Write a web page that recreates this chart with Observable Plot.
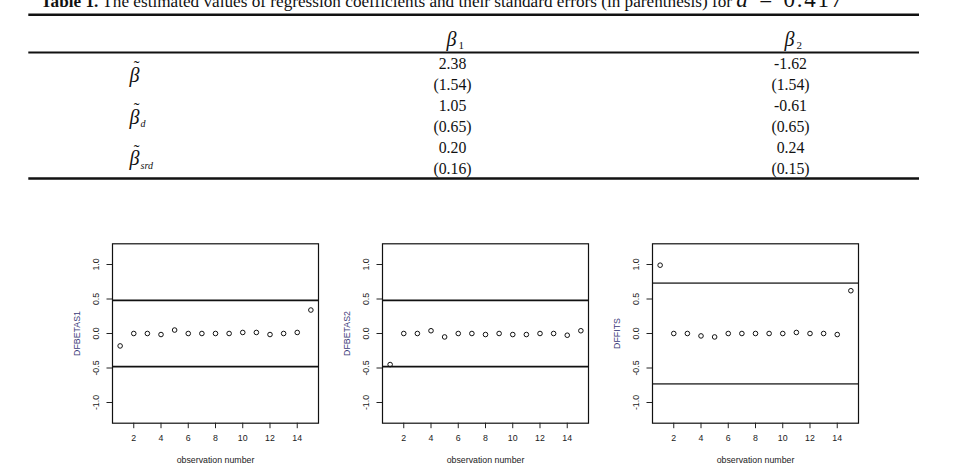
<!DOCTYPE html>
<html><head><meta charset="utf-8">
<script src="https://cdn.jsdelivr.net/npm/d3@7"></script>
<script src="https://cdn.jsdelivr.net/npm/@observablehq/plot@0.6"></script>
<style>
body{margin:0;background:#fff;}
#root{position:relative;width:957px;height:468px;overflow:hidden;background:#fff;}
.abs{position:absolute;}
#title{font-family:"Liberation Serif","Times New Roman",serif;font-size:17.2px;white-space:nowrap;line-height:20px;color:#111;}
#title .eq{font-size:23px;letter-spacing:1.8px;word-spacing:2px;}
</style></head><body><div id="root"></div>
<script>
// ---- table data ----
const titleBold = "Table 1.";
const titleText = " The estimated values of regression coefficients and their standard errors (in parenthesis) for ";
const dName = "d";
const dValue = "0.417";
const coefSubs = ["1", "2"];
const estimatorSubs = ["", "d", "srd"];
const beta1Est = [2.38, 1.05, 0.20];
const beta1SE  = [1.54, 0.65, 0.16];
const beta2Est = [-1.62, -0.61, 0.24];
const beta2SE  = [1.54, 0.65, 0.15];

// ---- panel data ----
const obs = [1,2,3,4,5,6,7,8,9,10,11,12,13,14,15];
const dfbetas1 = [-0.18, 0, 0, -0.015, 0.05, 0, 0, 0, 0, 0.015, 0.015, -0.015, 0, 0.015, 0.34];
const dfbetas2 = [-0.45, 0, 0, 0.04, -0.05, 0, 0, -0.015, 0, -0.015, -0.015, 0, 0, -0.025, 0.04];
const dffits   = [0.99, 0, 0, -0.035, -0.05, 0, 0, 0, 0, 0, 0.015, 0, 0, -0.015, 0.62];
const panelLabels = ["DFBETAS1", "DFBETAS2", "DFFITS"];
const cutoffs = [0.48, 0.48, 0.73];
const xTicks = [2,4,6,8,10,12,14];
const yTicks = [-1, -0.5, 0, 0.5, 1];
const yTickLabels = ["-1.0", "-0.5", "0.0", "0.5", "1.0"];
const xLabel = "observation number";

const root = document.getElementById("root");

// ---- title (HTML, above the table) ----
const title = document.createElement("div");
title.id = "title"; title.className = "abs";
title.style.left = "40.7px"; title.style.top = "-10px";
title.innerHTML = `<b>${titleBold}</b>${titleText}<span class="eq"><i>${dName}</i> = ${dValue}</span>`;
root.appendChild(title);

// ---- table as a Plot ----
const cells = [];
estimatorSubs.forEach((s, i) => {
  cells.push({col: "b1", row: 2*i,   text: beta1Est[i].toFixed(2)});
  cells.push({col: "b1", row: 2*i+1, text: "(" + beta1SE[i].toFixed(2) + ")"});
  cells.push({col: "b2", row: 2*i,   text: beta2Est[i].toFixed(2)});
  cells.push({col: "b2", row: 2*i+1, text: "(" + beta2SE[i].toFixed(2) + ")"});
});
const rowLabelData = estimatorSubs.map((s, i) => ({col: "label", row: 2*i + 0.55, sub: s}));
const headerData = coefSubs.map((s, i) => ({col: "b" + (i+1), row: -1.16, sub: s}));
const serif = "Liberation Serif, Times New Roman, serif";

const table = Plot.plot({
  width: 957, height: 190,
  marginTop: 5.7, marginBottom: 6.3, marginLeft: 0, marginRight: 0,
  style: {fontFamily: serif, background: "transparent", color: "#111"},
  x: {type: "point", domain: ["label", "b1", "b2"], range: [114, 790], padding: 0, axis: null},
  y: {domain: [-2.75, 5.75], reverse: true, axis: null},
  marks: [
    Plot.ruleY([-2.34], {stroke: "#111", strokeWidth: 2.6, insetLeft: 28.3, insetRight: 38}),
    Plot.ruleY([-0.54], {stroke: "#111", strokeWidth: 2, insetLeft: 28.3, insetRight: 38}),
    Plot.ruleY([5.48], {stroke: "#111", strokeWidth: 2.6, insetLeft: 28.3, insetRight: 38}),
    Plot.text(headerData, {x: "col", y: "row", text: () => "β", fontSize: 20, fontStyle: "italic", dx: -1}),
    Plot.text(headerData, {x: "col", y: "row", text: "sub", fontSize: 11, textAnchor: "start", dx: 6, dy: 6}),
    Plot.text(cells, {x: "col", y: "row", text: "text", fontSize: 15.8}),
    Plot.text(rowLabelData, {x: "col", y: "row", text: () => "β", fontSize: 20, fontStyle: "italic", dx: 20}),
    Plot.text(rowLabelData, {x: "col", y: "row", text: () => "˜", fontSize: 17, dx: 22, dy: -9}),
    Plot.text(rowLabelData, {x: "col", y: "row", text: "sub", fontSize: 10, fontStyle: "italic", textAnchor: "start", dx: 26, dy: 7})
  ]
});
table.classList.add("abs");
table.style.left = "0px"; table.style.top = "0px";
root.appendChild(table);

// ---- panels ----
const sans = "Liberation Sans, Arial, sans-serif";
function panel(values, label, cut, lineColor) {
  const data = obs.map((o, i) => ({obs: o, v: values[i]}));
  return Plot.plot({
    width: 270, height: 240,
    marginLeft: 50, marginRight: 14, marginTop: 15.3, marginBottom: 45.3,
    style: {fontFamily: sans, fontSize: "8.8px", color: "#222", background: "transparent", overflow: "visible"},
    x: {domain: [0.44, 15.56]},
    y: {domain: [-1.3, 1.3]},
    marks: [
      Plot.ruleY([cut, -cut], {stroke: lineColor, strokeWidth: 1.6}),
      Plot.frame({stroke: "#111", strokeWidth: 1.2}),
      Plot.dot(data, {x: "obs", y: "v", r: 2.3, stroke: "#111", strokeWidth: 1, fill: "none"}),
      Plot.axisX({ticks: xTicks, tickSize: 5.5, tickPadding: 6, label: null, fontSize: 8.8}),
      Plot.axisY({ticks: yTicks, tickSize: 5.5, tickFormat: () => "", label: null}),
      Plot.text(yTicks, {y: d => d, text: (d, i) => yTickLabels[i], frameAnchor: "left", dx: -16, rotate: -90, textAnchor: "middle", lineAnchor: "middle", fontSize: 8.8, fill: "#222"}),
      Plot.text([label], {frameAnchor: "left", dx: -35.6, rotate: -90, textAnchor: "middle", lineAnchor: "middle", fontSize: 8.8, fill: "#3a3a78"}),
      Plot.text([xLabel], {frameAnchor: "bottom", dy: 37.3, textAnchor: "middle", lineAnchor: "middle", fontSize: 8.8, fill: "#222"})
    ]
  });
}
const series = [dfbetas1, dfbetas2, dffits];
const lineColors = ["#111", "#111", "#555"];
series.forEach((vals, i) => {
  const p = panel(vals, panelLabels[i], cutoffs[i], lineColors[i]);
  p.classList.add("abs");
  p.style.left = (61.7 + i * 270.3) + "px";
  p.style.top = "228px";
  root.appendChild(p);
});
</script></body></html>
